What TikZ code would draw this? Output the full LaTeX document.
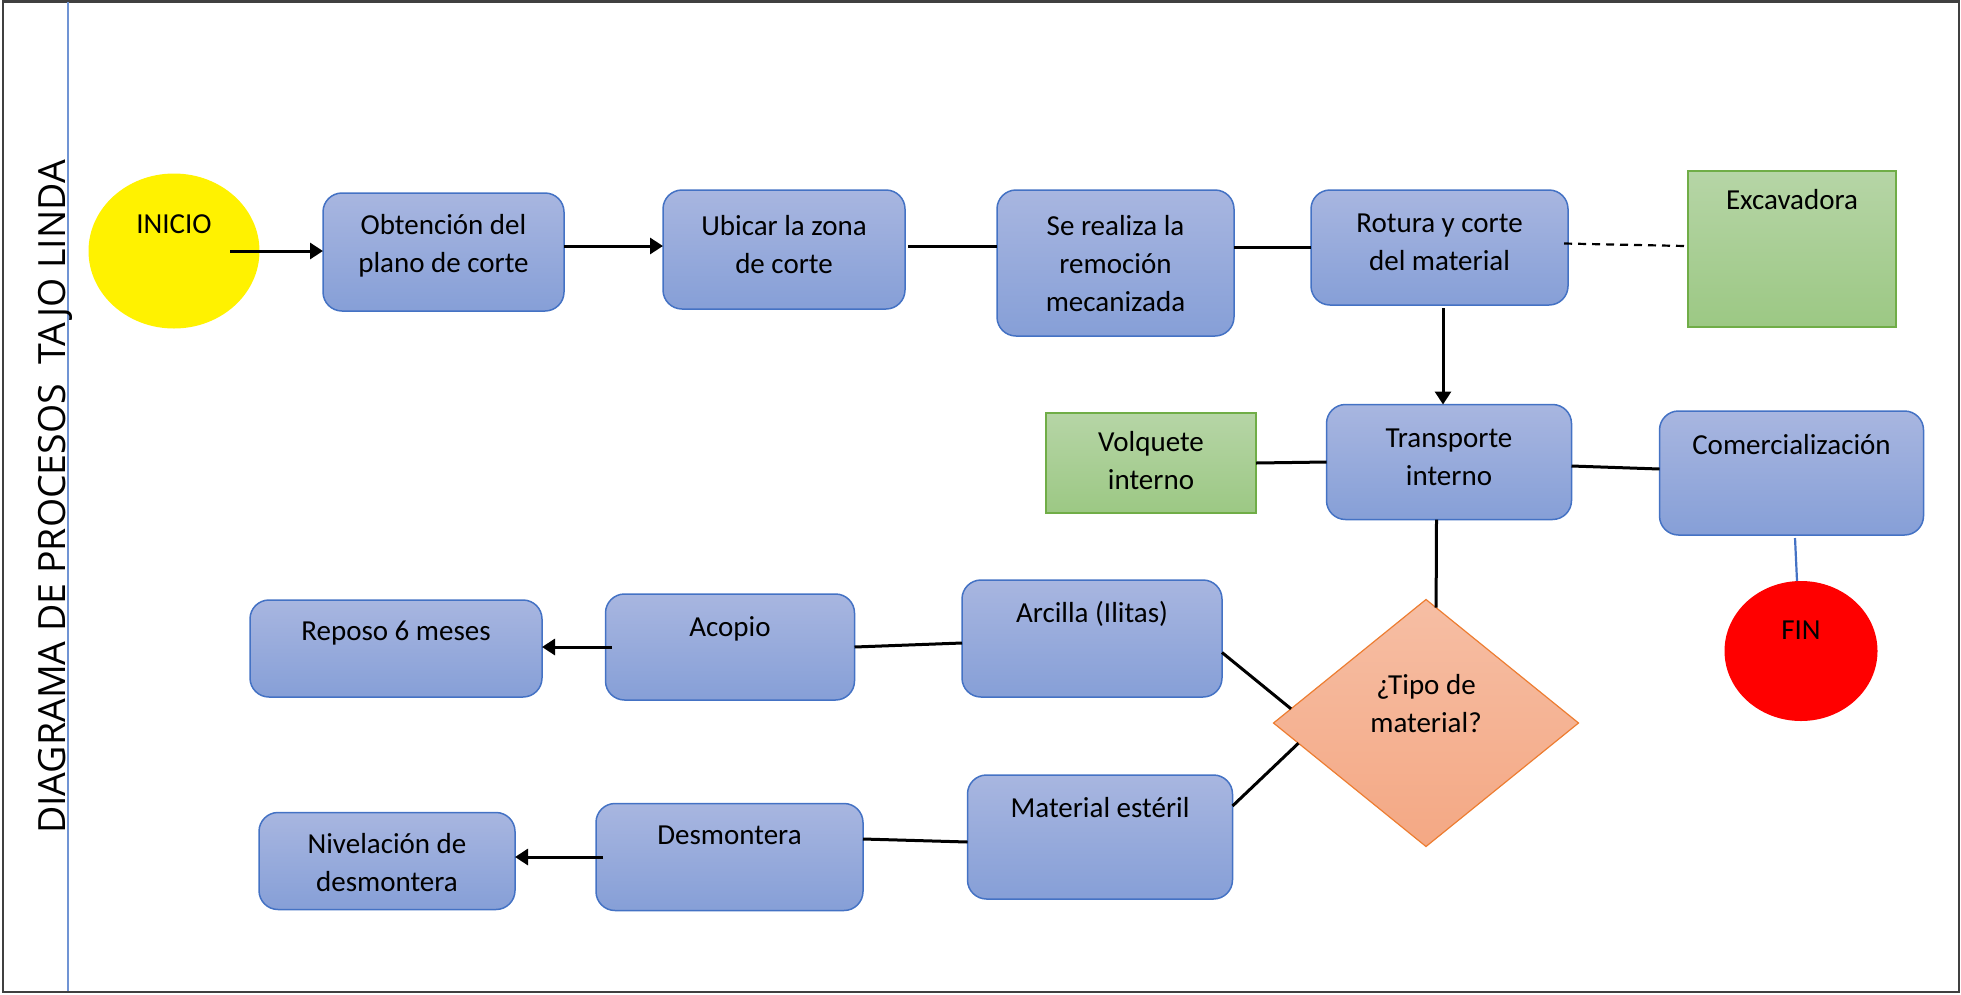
\documentclass[tikz,border=0pt]{standalone}
\usepackage{fontspec}
\setmainfont{Carlito}
\newfontfamily\titlefont{Open Sans}
\usetikzlibrary{shapes.geometric,arrows.meta}

\definecolor{boxtop}{RGB}{168,182,224}
\definecolor{boxbot}{RGB}{134,159,215}
\definecolor{boxline}{RGB}{68,114,196}
\definecolor{eqtop}{RGB}{182,213,166}
\definecolor{eqbot}{RGB}{156,200,132}
\definecolor{eqline}{RGB}{112,173,71}
\definecolor{dectop}{RGB}{246,190,164}
\definecolor{decbot}{RGB}{244,168,132}
\definecolor{decline}{RGB}{237,125,49}
\definecolor{laneline}{RGB}{112,148,212}
\definecolor{frameline}{RGB}{64,64,64}

\begin{document}
\begin{tikzpicture}[x=1pt,y=-1pt,
  proc/.style={rectangle, rounded corners=19pt, draw=boxline, line width=1.5pt,
    top color=boxtop, bottom color=boxbot, inner sep=0pt, outer sep=0pt},
  equip/.style={rectangle, draw=eqline, line width=1.5pt,
    top color=eqtop, bottom color=eqbot, inner sep=0pt, outer sep=0pt},
  decision/.style={diamond, draw=decline, line width=1.2pt,
    top color=dectop, bottom color=decbot, inner sep=0pt, outer sep=0pt},
  terminal/.style={ellipse, draw=none, inner sep=0pt, outer sep=0pt},
  txt/.style={font=\fontsize{29}{38}\selectfont, align=center, inner sep=0pt},
  link/.style={draw=black, line width=3pt},
  arrowlink/.style={link, -{Triangle[length=13pt,width=16pt]}},
  dashlink/.style={draw=black, line width=2.2pt, dash pattern=on 8pt off 6pt},
  bluelink/.style={draw=boxline, line width=2.2pt},
]
\useasboundingbox (0,0) rectangle (1961,994);

% frame and lane
\draw[frameline, line width=2.5pt] (3,1.5) rectangle (1959,992);
\draw[laneline, line width=2pt] (68,2) -- (68,991);
\node[rotate=90, anchor=base, inner sep=0pt,
      font=\titlefont\fontsize{37.5}{40}\selectfont] (title) at (65,497)
      {DIAGRAMA DE PROCESOS\ \ TAJO LINDA};

% start
\node[terminal, fill=yellow, minimum width=171pt, minimum height=155pt] (ini) at (174,251) {};
\node[txt] (ini-t) at (174,224) {INICIO};

% main row
\node[proc, minimum width=241pt, minimum height=118pt] (obt) at (443.5,252) {};
\node[txt] (obt-t) at (443.5,245.5) {Obtención del\\plano de corte};

\node[proc, minimum width=242pt, minimum height=119pt] (ubi) at (784,249.5) {};
\node[txt] (ubi-t) at (784,244.5) {Ubicar la zona\\de corte};

\node[proc, minimum width=237pt, minimum height=146pt] (rem) at (1115.5,263) {};
\node[txt] (rem-t) at (1115.5,263.5) {Se realiza la\\remoción\\mecanizada};

\node[proc, minimum width=257pt, minimum height=115pt] (rot) at (1439.5,247.5) {};
\node[txt] (rot-t) at (1439.5,242.5) {Rotura y corte\\del material};

\node[equip, minimum width=208pt, minimum height=156pt] (exc) at (1792,249) {};
\node[txt] (exc-t) at (1792,200) {Excavadora};

% transport row
\node[proc, minimum width=245pt, minimum height=115pt] (tra) at (1449,462) {};
\node[txt] (tra-t) at (1449,457) {Transporte\\interno};

\node[equip, minimum width=210pt, minimum height=100pt] (vol) at (1151,463) {};
\node[txt] (vol-t) at (1151,461) {Volquete\\interno};

\node[proc, minimum width=264pt, minimum height=124pt] (com) at (1791.5,473) {};
\node[txt] (com-t) at (1791.5,445) {Comercialización};

\node[terminal, fill=red, minimum width=153pt, minimum height=140pt] (fin) at (1801,651) {};
\node[txt] (fin-t) at (1801,630) {FIN};

% decision
\node[decision, minimum width=305pt, minimum height=247pt] (dia) at (1426,723) {};
\node[txt] (dia-t) at (1426,704) {¿Tipo de\\material?};

% material branches
\node[proc, minimum width=260pt, minimum height=117pt] (arc) at (1092,638.5) {};
\node[txt] (arc-t) at (1092,614) {Arcilla (Ilitas)};

\node[proc, minimum width=265pt, minimum height=124pt] (est) at (1100,837) {};
\node[txt] (est-t) at (1100,808) {Material estéril};

\node[proc, minimum width=249pt, minimum height=106pt] (aco) at (730,647) {};
\node[txt] (aco-t) at (730,629) {Acopio};

\node[proc, minimum width=292pt, minimum height=97pt] (rep) at (396,648.5) {};
\node[txt] (rep-t) at (396,633) {Reposo 6 meses};

\node[proc, minimum width=267pt, minimum height=107pt] (des) at (729.5,857) {};
\node[txt] (des-t) at (729.5,835) {Desmontera};

\node[proc, minimum width=256pt, minimum height=97pt] (niv) at (387,861) {};
\node[txt] (niv-t) at (387,863) {Nivelación de\\desmontera};

% connectors
\draw[arrowlink] ([xshift=56pt]ini.center) -- (ini.center -| obt.west);
\draw[arrowlink] ([yshift=6pt]obt.east) -- ([yshift=6pt]obt.east -| ubi.west);
\draw[link] ([xshift=3pt,yshift=3pt]ubi.east) -- ([yshift=3pt]ubi.east -| rem.west);
\draw[link] (rem.east |- rot.west) -- (rot.west);
\draw[dashlink] ([xshift=-4pt,yshift=4pt]rot.east) -- ([xshift=-3pt,yshift=3pt]exc.west);
\draw[arrowlink] ([xshift=3.5pt,yshift=-3pt]rot.south) -- ([xshift=3.5pt]rot.south |- tra.north);
\draw[link] (vol.east) -- (tra.west);
\draw[link] ([yshift=-4pt]tra.east) -- ([yshift=4pt]com.west);
\draw[bluelink] ([xshift=3.5pt,yshift=-3pt]com.south) -- ([xshift=-4pt]fin.north);
\draw[link] ([xshift=-12.5pt]tra.south) -- (dia.85);
\draw[link] ([yshift=-14pt]arc.east) -- (dia.174);
\draw[link] (dia.189) -- ([yshift=31pt]est.east);
\draw[link] ([yshift=-4.5pt]arc.west) -- (aco.east);
\draw[arrowlink] ([xshift=6pt]aco.west) -- (aco.west -| rep.east);
\draw[link] ([yshift=-5pt]est.west) -- ([yshift=18pt]des.east);
\draw[arrowlink] ([xshift=7pt]des.west) -- (des.west -| niv.east);
\end{tikzpicture}
\end{document}
